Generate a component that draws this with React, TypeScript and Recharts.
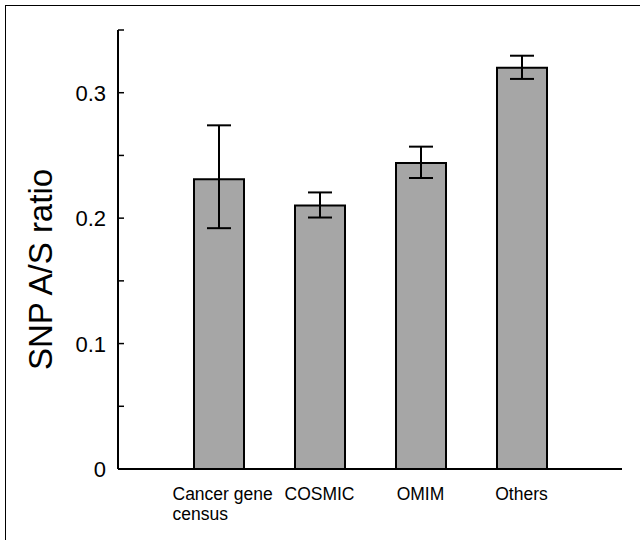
import { Bar, BarChart, ErrorBar, XAxis, YAxis } from 'recharts'

// SNP A/S ratio by gene set, mean with error range
const labelLines = [['Cancer gene', 'census'], ['COSMIC'], ['OMIM'], ['Others']]
const ratios = [0.231, 0.21, 0.244, 0.32]
const errLow = [0.039, 0.0095, 0.012, 0.009]
const errHigh = [0.043, 0.0105, 0.013, 0.0095]
const yTicks = [0, 0.05, 0.1, 0.15, 0.2, 0.25, 0.3, 0.35]
const yLabeled = [0, 0.1, 0.2, 0.3]

const FONT = '"Liberation Sans", Arial, Helvetica, sans-serif'

const data = labelLines.map((lines, i) => ({
  name: lines.join(' '),
  ratio: ratios[i],
  err: [errLow[i], errHigh[i]],
}))

function YTick({ x, y, payload }: any) {
  const v = payload.value as number
  const labeled = yLabeled.some((t) => Math.abs(t - v) < 1e-9)
  return (
    <g>
      <line x1={x} x2={x + 6} y1={y} y2={y} stroke="#000" strokeWidth={1.5} />
      {labeled && (
        <text x={x - 12} y={y + 8} textAnchor="end" fontSize={22} fontFamily={FONT} fill="#000">
          {v === 0 ? '0' : v.toFixed(1)}
        </text>
      )}
    </g>
  )
}

function XTick({ x, y, index }: any) {
  const lines = labelLines[index]
  if (lines.length === 1) {
    return (
      <text x={x} y={y + 31} textAnchor="middle" fontSize={17.5} fontFamily={FONT} fill="#000">
        {lines[0]}
      </text>
    )
  }
  // multi-line label: left-aligned block centred under the bar
  const left = x - 46
  return (
    <text x={left} y={y + 31} fontSize={17.5} fontFamily={FONT} fill="#000">
      {lines.map((l, k) => (
        <tspan key={k} x={left} dy={k === 0 ? 0 : 19.5}>
          {l}
        </tspan>
      ))}
    </text>
  )
}

function AxisTitle({ viewBox }: any) {
  const cx = viewBox.x - 6
  const cy = viewBox.y + viewBox.height / 2 + 20
  return (
    <text
      x={cx}
      y={cy}
      transform={`rotate(-90 ${cx} ${cy})`}
      textAnchor="middle"
      fontSize={33}
      fontFamily={FONT}
      fill="#000"
    >
      SNP A/S ratio
    </text>
  )
}

export default function App() {
  return (
    <div style={{ position: 'absolute', left: 0, top: 0, width: 640, height: 540, background: '#fff' }}>
      <div
        style={{
          position: 'absolute',
          left: 5,
          top: 5,
          width: 640,
          height: 540,
          borderLeft: '1.5px solid #000',
          borderTop: '1.5px solid #000',
        }}
      />
      <div style={{ position: 'absolute', left: 0, top: 0 }}>
        <BarChart
          width={640}
          height={540}
          data={data}
          margin={{ top: 30, right: 18, bottom: 21, left: 58 }}
          barSize={50}
        >
          <XAxis
            dataKey="name"
            height={50}
            padding={{ left: 50, right: 50 }}
            axisLine={{ stroke: '#000', strokeWidth: 2 }}
            tickLine={false}
            tickSize={0}
            tickMargin={0}
            interval={0}
            tick={<XTick />}
          />
          <YAxis
            width={60}
            domain={[0, 0.35]}
            ticks={yTicks}
            interval={0}
            allowDataOverflow
            axisLine={{ stroke: '#000', strokeWidth: 2 }}
            tickLine={false}
            tickSize={0}
            tickMargin={0}
            tick={<YTick />}
            label={{ content: <AxisTitle /> }}
          />
          <Bar dataKey="ratio" fill="#a6a6a6" stroke="#000" strokeWidth={2} isAnimationActive={false}>
            <ErrorBar dataKey="err" direction="y" width={12} stroke="#000" strokeWidth={2} />
          </Bar>
        </BarChart>
      </div>
    </div>
  )
}
